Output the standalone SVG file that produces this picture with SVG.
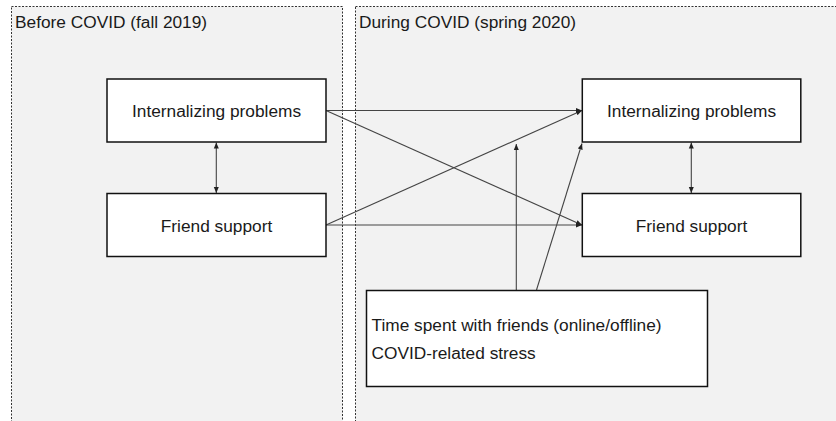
<svg xmlns="http://www.w3.org/2000/svg" width="836" height="421" viewBox="0 0 836 421">
<style>
.panel{fill:#f2f2f2;stroke:#333;stroke-width:1;stroke-dasharray:2 1.5}
.box{fill:#fff;stroke:#111;stroke-width:1.5}
.t{font-family:"Liberation Sans",Arial,sans-serif;font-size:17.3px;fill:#1a1a1a}
.c{text-anchor:middle}
.ln{stroke:#444;stroke-width:1.1;fill:none}
</style>
<defs>
<marker id="ah" viewBox="0 0 6 6" refX="6" refY="3" markerWidth="6" markerHeight="6" markerUnits="userSpaceOnUse" orient="auto-start-reverse">
<path d="M0,0.5 L6,3 L0,5.5 Z" fill="#222"/>
</marker>
</defs>
<rect width="836" height="421" fill="#fff"/>
<g id="panel-before">
<rect class="panel" x="11.5" y="6.5" width="331" height="430"/>
<text class="t" x="15" y="28">Before COVID (fall 2019)</text>
</g>
<g id="panel-during">
<rect class="panel" x="355.5" y="6.5" width="490" height="430"/>
<text class="t" x="359" y="28">During COVID (spring 2020)</text>
</g>
<g id="connectors">
<line class="ln" x1="326" y1="110.5" x2="582" y2="110.5" marker-end="url(#ah)"/>
<line class="ln" x1="326" y1="225" x2="582" y2="225" marker-end="url(#ah)"/>
<line class="ln" x1="326" y1="110.5" x2="582" y2="225" marker-end="url(#ah)"/>
<line class="ln" x1="326" y1="225" x2="582" y2="110.5" marker-end="url(#ah)"/>
<line class="ln" x1="216.3" y1="142.5" x2="216.3" y2="193" marker-start="url(#ah)" marker-end="url(#ah)"/>
<line class="ln" x1="691.3" y1="142.5" x2="691.3" y2="193" marker-start="url(#ah)" marker-end="url(#ah)"/>
<line class="ln" x1="516.3" y1="290" x2="516.3" y2="144" marker-end="url(#ah)"/>
<line class="ln" x1="536.5" y1="290" x2="582" y2="143.5" marker-end="url(#ah)"/>
</g>
<g id="node-int-before">
<rect class="box" x="107" y="79" width="219" height="63"/>
<text class="t c" x="216.5" y="117">Internalizing problems</text>
</g>
<g id="node-fs-before">
<rect class="box" x="107" y="193.5" width="219" height="63"/>
<text class="t c" x="216.5" y="231.5">Friend support</text>
</g>
<g id="node-int-during">
<rect class="box" x="582.3" y="79" width="218.5" height="63"/>
<text class="t c" x="691.5" y="117">Internalizing problems</text>
</g>
<g id="node-fs-during">
<rect class="box" x="582.3" y="193.5" width="218.5" height="63"/>
<text class="t c" x="691.5" y="231.5">Friend support</text>
</g>
<g id="node-moderators">
<rect class="box" x="366.5" y="290.5" width="341" height="96"/>
<text class="t" x="371.5" y="331">Time spent with friends (online/offline)</text>
<text class="t" x="371.5" y="359">COVID-related stress</text>
</g>
</svg>
